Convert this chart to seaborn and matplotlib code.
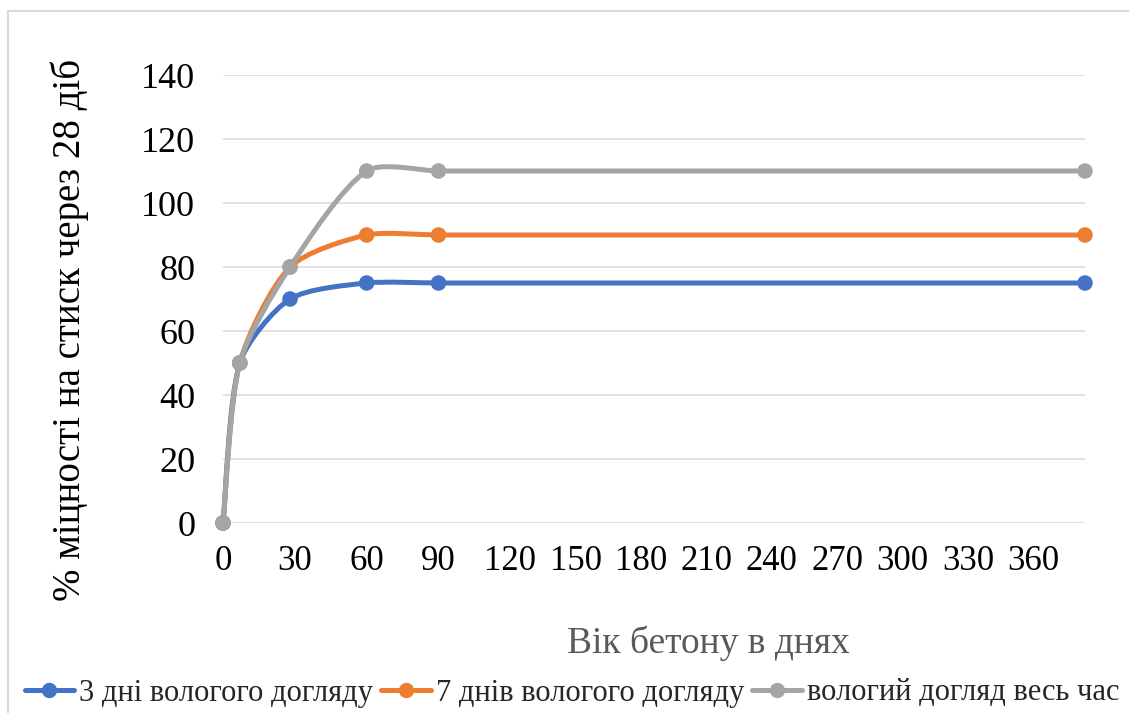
import numpy as np
import pandas as pd
import matplotlib
matplotlib.use("Agg")
import matplotlib.pyplot as plt
import seaborn as sns
from matplotlib.path import Path
from matplotlib.patches import PathPatch, Rectangle
from matplotlib.lines import Line2D

# age of concrete, days
days = [0, 7, 28, 60, 90, 360]
# % of 28-day compressive strength
moist_3 = [0, 50, 70, 75, 75, 75]
moist_7 = [0, 50, 80, 90, 90, 90]
moist_all = [0, 50, 80, 110, 110, 110]
series_names = ["3 дні вологого догляду", "7 днів вологого догляду", "вологий догляд весь час"]
colors = ["#4472C4", "#ED7D31", "#A5A5A5"]
x_tick_labels = [0, 30, 60, 90, 120, 150, 180, 210, 240, 270, 300, 330, 360]
y_ticks = [0, 20, 40, 60, 80, 100, 120, 140]

df = pd.DataFrame({
    "day": days * 3,
    "pct": moist_3 + moist_7 + moist_all,
    "series": [n for n in series_names for _ in days],
})

sns.set_style("white")
plt.rcParams["font.family"] = ["Liberation Serif", "DejaVu Serif"]

fig = plt.figure(figsize=(11.29, 7.13), dpi=100)
ax = fig.add_axes([223 / 1129, 1 - 523 / 713, 862 / 1129, 448 / 713])
ax.set_xlim(0, 360)
ax.set_ylim(0, 140)


def smooth_path(xs, ys, f=1 / 6):
    # excel-ish smoothed line: catmull-rom bezier in screen space, arms clamped
    pts = ax.transData.transform(np.column_stack([xs, ys]))
    n = len(pts)
    verts = [pts[0]]
    codes = [Path.MOVETO]
    for i in range(n - 1):
        p0 = pts[i - 1] if i > 0 else pts[i]
        p1, p2 = pts[i], pts[i + 1]
        p3 = pts[i + 2] if i + 2 < n else pts[i + 1]
        lim = np.hypot(*(p2 - p1)) / 4
        a1 = (p2 - p0) * f
        a2 = (p3 - p1) * f
        if np.hypot(*a1) > lim:
            a1 = a1 * lim / np.hypot(*a1)
        if np.hypot(*a2) > lim:
            a2 = a2 * lim / np.hypot(*a2)
        verts += [p1 + a1, p2 - a2, p2]
        codes += [Path.CURVE4] * 3
    verts = ax.transData.inverted().transform(np.array(verts))
    return Path(verts, codes)


for name, col, vals in zip(series_names, colors, [moist_3, moist_7, moist_all]):
    ax.add_patch(PathPatch(smooth_path(days, vals), fill=False, ec=col, lw=3.6,
                           capstyle="round", joinstyle="round", zorder=3, clip_on=False))

sns.scatterplot(data=df, x="day", y="pct", hue="series", palette=colors,
                s=125, edgecolor="none", legend=False, ax=ax, zorder=4, clip_on=False)

ax.set_yticks(y_ticks)
ax.yaxis.grid(True, color="#D9D9D9", lw=1.1)
ax.xaxis.grid(False)
ax.set_axisbelow(True)
for s in ax.spines.values():
    s.set_visible(False)

# Excel crowds the labels together past 120
tick_pos = [v if v <= 120 else 120 + (v - 120) / 30 * 27.3 for v in x_tick_labels]
ax.set_xticks(tick_pos)
ax.set_xticklabels([str(v) for v in x_tick_labels])
ax.tick_params(axis="x", length=0, pad=16, labelsize=25, labelcolor="black")
ax.tick_params(axis="y", length=0, pad=20, labelsize=26, labelcolor="black")

ax.set_xlabel("Вік бетону в днях", fontsize=27, color="#595959")
ax.xaxis.label.set_va("center")
ax.xaxis.set_label_coords((708 - 223) / 862, (523 - 643) / 448)
ax.set_ylabel("% міцності на стиск через 28 діб", fontsize=28, color="black")
ax.yaxis.label.set_va("center")
ax.yaxis.set_label_coords((70 - 223) / 862, (523 - 330) / 448)

handles = [Line2D([], [], color=c, lw=3.6, marker="o", markersize=10) for c in colors]
fig.legend(handles, series_names, loc="center", bbox_to_anchor=(572 / 1129, 1 - 693 / 713),
           ncol=3, frameon=False, fontsize=22, handlelength=1.63, handletextpad=0.16,
           columnspacing=0.26, borderpad=0)

fig.patches.append(Rectangle((8 / 1129, -0.1), 1.2, 1.1 - 11 / 713, transform=fig.transFigure,
                             fill=False, ec="#D9D9D9", lw=1.5, figure=fig))

fig.savefig("out.png", dpi=100)
